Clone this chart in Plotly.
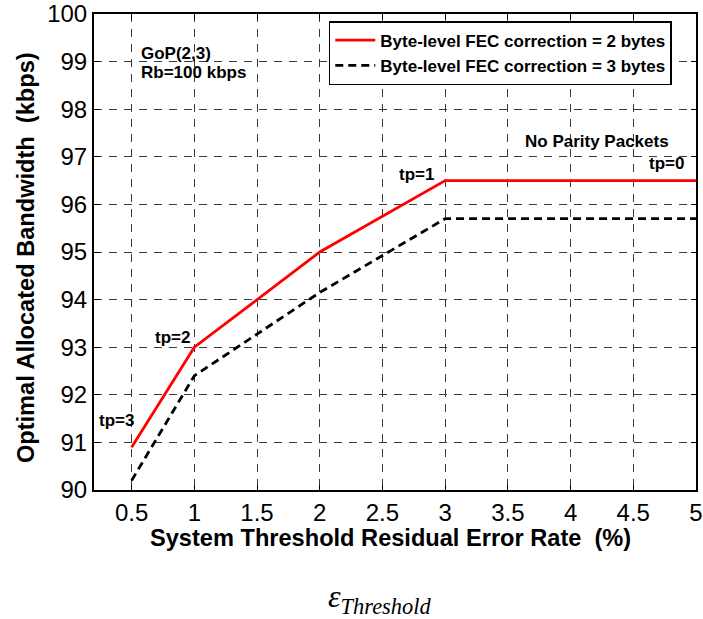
import plotly.graph_objects as go

x_red = [0.5, 1, 2, 3, 5]
y_red = [90.9, 93.0, 95.0, 96.5, 96.5]
x_blk = [0.5, 1, 2, 3, 5]
y_blk = [90.2, 92.4, 94.15, 95.7, 95.7]
name_red = "Byte-level FEC correction = 2 bytes"
name_blk = "Byte-level FEC correction = 3 bytes"
x_ticks = [0.5, 1, 1.5, 2, 2.5, 3, 3.5, 4, 4.5, 5]
x_ticklabels = ["0.5", "1", "1.5", "2", "2.5", "3", "3.5", "4", "4.5", "5"]
y_ticks = [90, 91, 92, 93, 94, 95, 96, 97, 98, 99, 100]

fig = go.Figure()
fig.add_trace(go.Scatter(x=x_red, y=y_red, mode="lines", name="<b>" + name_red + "</b>",
                         line=dict(color="#ff0000", width=2.8)))
fig.add_trace(go.Scatter(x=x_blk, y=y_blk, mode="lines", name="<b>" + name_blk + "</b>",
                         line=dict(color="black", width=2.8, dash="8px,5px")))

bold = dict(family="Liberation Sans, Arial", size=17, color="black")
ann = [
    dict(x=0.56, y=99.18, text="<b>GoP(2,3)</b>", xanchor="left"),
    dict(x=0.56, y=98.78, text="<b>Rb=100 kbps</b>", xanchor="left"),
    dict(x=0.376, y=91.45, text="<b>tp=3</b>", xanchor="center"),
    dict(x=0.823, y=93.2, text="<b>tp=2</b>", xanchor="center"),
    dict(x=2.77, y=96.62, text="<b>tp=1</b>", xanchor="center"),
    dict(x=4.21, y=97.32, text="<b>No Parity Packets</b>", xanchor="center"),
    dict(x=4.765, y=96.85, text="<b>tp=0</b>", xanchor="center"),
]
annotations = []
for a in ann:
    a.update(xref="x", yref="y", showarrow=False, font=bold, yanchor="middle")
    annotations.append(a)

title_font = dict(family="Liberation Sans, Arial", size=23.6, color="black")
annotations.append(dict(xref="paper", yref="paper", x=0.4925, y=-0.101,
                        text="<b>System Threshold Residual Error Rate  (%)</b>",
                        showarrow=False, xanchor="center", yanchor="middle",
                        font=title_font))
annotations.append(dict(xref="paper", yref="paper", x=-0.114, y=0.488,
                        text="<b>Optimal Allocated Bandwidth  (kbps)</b>", textangle=-90,
                        showarrow=False, xanchor="center", yanchor="middle",
                        font=title_font))
annotations.append(dict(xref="paper", yref="paper", x=0.474, y=-0.227,
                        text="<i>ε</i><sub><i>Threshold</i></sub>",
                        showarrow=False, xanchor="center", yanchor="middle",
                        font=dict(family="Liberation Serif, Times New Roman", size=32, color="black")))

axis_common = dict(showline=True, linecolor="black", linewidth=2, mirror="ticks",
                   ticks="inside", ticklen=5, tickcolor="black",
                   showgrid=True, gridcolor="#3a3a3a", gridwidth=1, griddash="8px,7px",
                   zeroline=False, automargin=False,
                   tickfont=dict(family="Liberation Sans, Arial", size=24, color="black"))

fig.update_layout(
    width=703, height=619,
    margin=dict(l=94, r=7, t=14, b=129, autoexpand=False),
    paper_bgcolor="white", plot_bgcolor="white",
    showlegend=True,
    legend=dict(x=0.39, y=0.985, xanchor="left", yanchor="top",
                bordercolor="black", borderwidth=1.5, bgcolor="white",
                font=dict(family="Liberation Sans, Arial", size=17, color="black"),
                tracegroupgap=0, itemwidth=40),
    xaxis=dict(range=[0.2, 5], tickvals=x_ticks, ticktext=x_ticklabels, **axis_common),
    yaxis=dict(range=[90, 100], tickvals=y_ticks, **axis_common),
    annotations=annotations,
)

fig.write_html("out.html", config={"displayModeBar": False},
               post_script="document.body.style.margin='0px';")
